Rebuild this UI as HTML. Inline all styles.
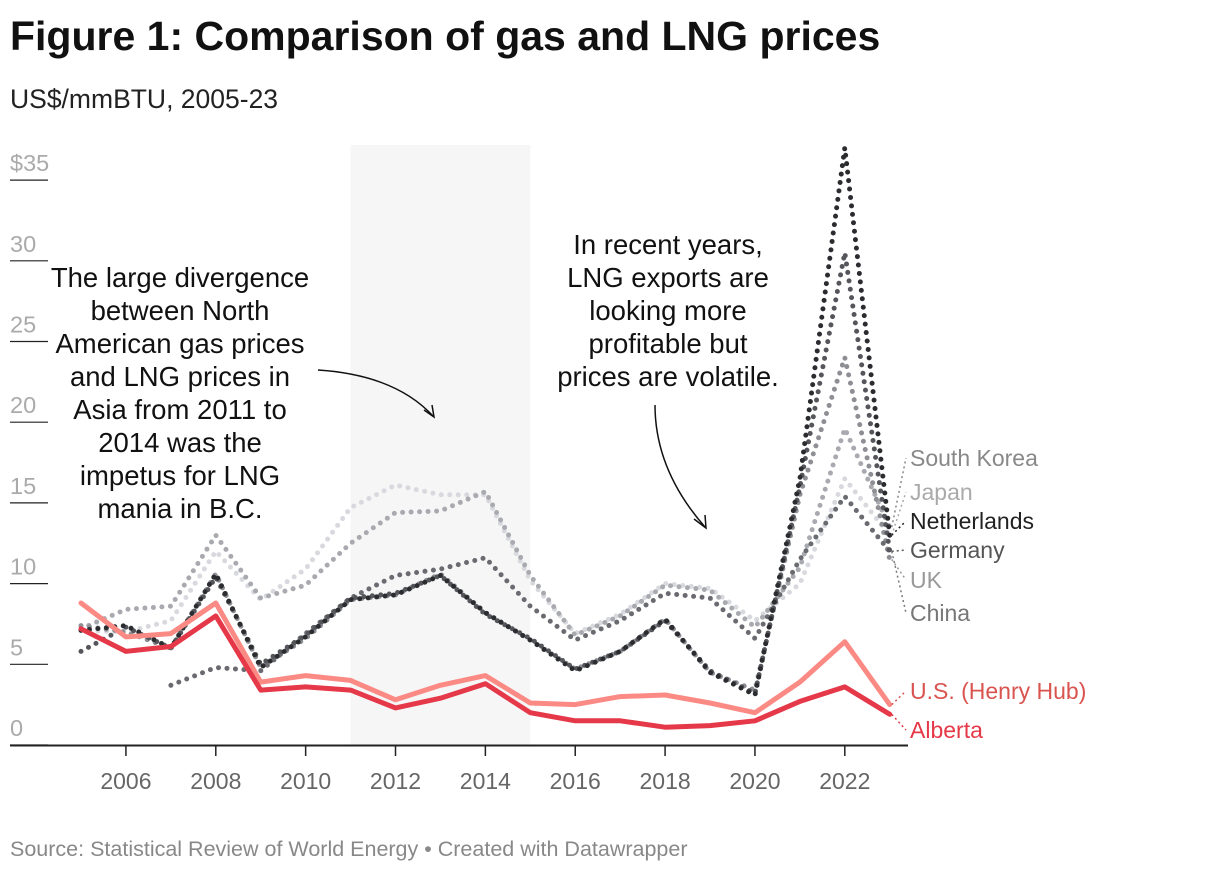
<!DOCTYPE html>
<html><head><meta charset="utf-8"><style>
body{margin:0;background:#fff;font-family:"Liberation Sans",sans-serif;}
#wrap{position:relative;width:1220px;height:872px;overflow:hidden;}
</style></head><body>
<div id="wrap">
<svg id="chart" width="1220" height="872">
<text x="10" y="50" font-size="41" font-weight="bold" fill="#111">Figure 1: Comparison of gas and LNG prices</text>
<text x="10" y="108" font-size="26.5" fill="#222">US$/mmBTU, 2005-23</text>
<rect id="shade" y="145" height="600" fill="#f6f6f6"/>
<g id="yaxis"></g>
<g id="xaxis"></g>
<g id="series"></g>
<g id="labels"></g>
<g font-size="27.5" fill="#111" text-anchor="middle">
<text x="180" y="287">The large divergence</text><text x="180" y="320">between North</text><text x="180" y="353">American gas prices</text><text x="180" y="386">and LNG prices in</text><text x="180" y="419">Asia from 2011 to</text><text x="180" y="452">2014 was the</text><text x="180" y="485">impetus for LNG</text><text x="180" y="518">mania in B.C.</text>
</g>
<path d="M318,370 Q395,375 433,416" fill="none" stroke="#111" stroke-width="1.5"/>
<path d="M424,410 L434,417 L432,405" fill="none" stroke="#111" stroke-width="1.5"/>
<g font-size="27.5" fill="#111" text-anchor="middle">
<text x="668" y="254">In recent years,</text><text x="668" y="287">LNG exports are</text><text x="668" y="320">looking more</text><text x="668" y="353">profitable but</text><text x="668" y="386">prices are volatile.</text>
</g>
<path d="M655,405 Q655,470 705,527" fill="none" stroke="#111" stroke-width="1.5"/>
<path d="M694,519 L706,528 L705,515" fill="none" stroke="#111" stroke-width="1.5"/>
<text x="10" y="856" font-size="21.5" fill="#888">Source: Statistical Review of World Energy • Created with Datawrapper</text>
</svg>
</div>
<script>
const years=[2005,2006,2007,2008,2009,2010,2011,2012,2013,2014,2015,2016,2017,2018,2019,2020,2021,2022,2023];
const yTicks=[0,5,10,15,20,25,30,35];
const yTickLabels=["0","5","10","15","20","25","30","$35"];
const xTicks=[2006,2008,2010,2012,2014,2016,2018,2020,2022];
const japan=[7.1,7.0,7.7,12.0,9.0,10.9,14.7,16.1,15.5,15.5,10.2,6.9,8.1,10.0,9.7,7.7,10.0,16.5,13.0];
const southKorea=[7.2,8.4,8.6,13.0,9.1,9.9,12.5,14.4,14.5,15.7,10.5,6.8,8.0,9.9,9.6,7.3,11.0,19.6,13.5];
const uk=[7.4,7.0,6.0,10.6,4.8,6.6,9.0,9.3,10.6,8.2,6.5,4.7,5.8,7.8,4.5,3.4,15.5,24.0,11.5];
const china=[null,null,3.7,4.8,4.6,6.9,9.1,10.5,10.9,11.6,8.6,6.5,7.7,9.4,9.1,6.6,11.5,15.4,12.0];
const germany=[5.8,7.3,6.0,10.4,5.0,6.8,9.1,9.4,10.5,8.1,6.6,4.7,5.8,7.7,4.6,3.2,16.0,30.5,12.0];
const netherlands=[7.1,7.4,6.0,10.6,4.8,6.7,9.0,9.3,10.5,8.2,6.5,4.6,5.8,7.8,4.5,3.1,16.5,37.0,13.0];
const henryHub=[8.8,6.7,6.9,8.8,3.9,4.3,4.0,2.8,3.7,4.3,2.6,2.5,3.0,3.1,2.6,2.0,3.9,6.4,2.5];
const alberta=[7.2,5.8,6.1,8.0,3.4,3.6,3.4,2.3,2.9,3.8,2.0,1.5,1.5,1.1,1.2,1.5,2.7,3.6,1.9];
const NS="http://www.w3.org/2000/svg";
const x=y=>81+(y-2005)*44.93;
const yS=v=>745-v*16.14;
function mk(tag,attrs,parent){const e=document.createElementNS(NS,tag);for(const k in attrs)e.setAttribute(k,attrs[k]);parent.appendChild(e);return e;}
const sh=document.getElementById('shade');sh.setAttribute('x',x(2011));sh.setAttribute('width',x(2015)-x(2011));
const ya=document.getElementById('yaxis');
yTicks.forEach((t,i)=>{
 const l=mk('line',{x1:10,x2:48,y1:yS(t),y2:yS(t),stroke:'#222','stroke-width':1.2},ya);
 
 
 const tx=mk('text',{x:10,y:yS(t)-9,'font-size':23.5,fill:'#aaa'},ya);tx.textContent=yTickLabels[i];
 
 
});
const xa=document.getElementById('xaxis');
const ax=mk('line',{x1:10,x2:908,y1:745.5,y2:745.5,stroke:'#222','stroke-width':2},xa);


xTicks.forEach(t=>{
 const tk=mk('line',{x1:x(t),x2:x(t),y1:745,y2:756,stroke:'#222','stroke-width':1.5},xa);
 
 
 const tx=mk('text',{x:x(t),y:789,'font-size':23,fill:'#666','text-anchor':'middle'},xa);tx.textContent=t;
 
 
});
const sg=document.getElementById('series');
function path(arr){let d='',pen=false;arr.forEach((v,i)=>{if(v==null){pen=false;return;}d+=(pen?'L':'M')+x(years[i]).toFixed(1)+','+yS(v).toFixed(1);pen=true;});return d;}
const defs=[
 ['japan',japan,'#d8d9de',true],['south-korea',southKorea,'#a9aab0',true],['uk',uk,'#8e8f95',true],
 ['china',china,'#6a6b70',true],['germany',germany,'#55565b',true],['netherlands',netherlands,'#2b2c30',true],
 ['henry-hub',henryHub,'#fb8a85',false],['alberta',alberta,'#e53848',false]];
defs.forEach(([n,a,c,dot])=>{
 const p=mk('path',{d:path(a),fill:'none',stroke:c,'stroke-width':5,'stroke-linecap':'round','stroke-linejoin':'round'},sg);
 if(dot)p.setAttribute('stroke-dasharray','0 8.5');
 
 
});
const lg=document.getElementById('labels');
const labs=[['South Korea',466,'#888',southKorea],['Japan',500,'#aaa',japan],['Netherlands',529,'#222',netherlands],['Germany',558,'#555',germany],['UK',588,'#999',uk],['China',621,'#777',china],['U.S. (Henry Hub)',699,'#d9534f',henryHub],['Alberta',738,'#e53848',alberta]];
labs.forEach(([t,yy,c,a])=>{
 const v=a[a.length-1];
 const cl=mk('line',{x1:x(2023)+2,y1:yS(v),x2:906,y2:yy-8,stroke:c,'stroke-width':1.5,'stroke-dasharray':'2 3'},lg);
 
 
 const tx=mk('text',{x:910,y:yy,'font-size':23,fill:c},lg);tx.textContent=t;
 
 
});
</script>
</body></html>
